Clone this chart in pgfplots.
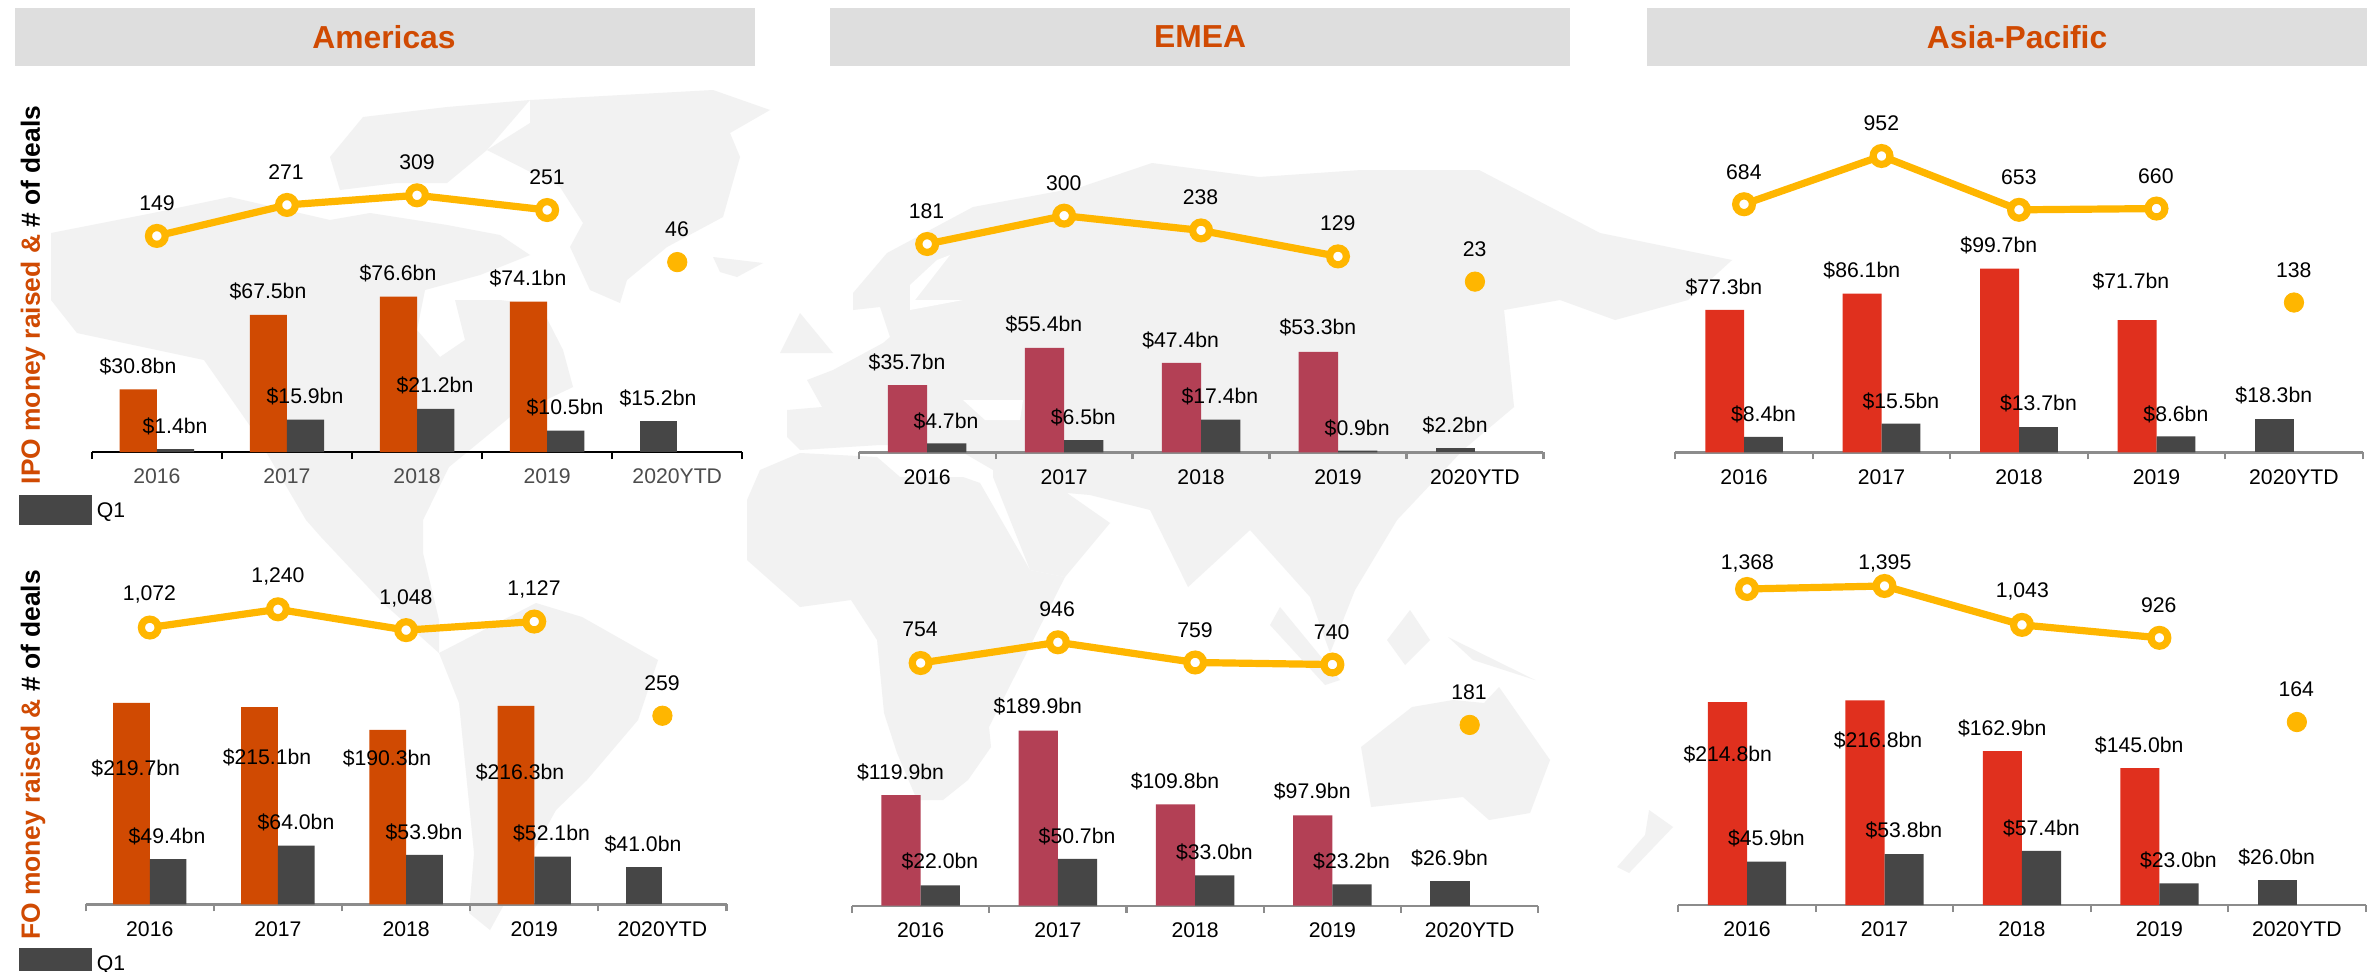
\documentclass[border=0pt]{standalone}
\usepackage{fontspec}
\setmainfont{Liberation Sans}
\usepackage{pgfplots}
\usepackage{pgfplotstable}
\pgfplotsset{compat=1.18}

\definecolor{pworange}{HTML}{D04A02}
\definecolor{pwrose}{HTML}{B34055}
\definecolor{pwred}{HTML}{E0301E}
\definecolor{pwdark}{HTML}{464646}
\definecolor{pwamber}{HTML}{FFB600}
\definecolor{axisgray}{HTML}{8C8C8C}
\definecolor{softtext}{HTML}{4D4D4D}
\definecolor{headgray}{HTML}{DEDEDE}
\definecolor{mapgray}{HTML}{F2F2F2}

% one unit = one pixel of the reference = 0.5pt
\pgfplotstableread{
x   raised q1   deals
0.5 30.8   1.4  149
1.5 67.5   15.9 271
2.5 76.6   21.2 309
3.5 74.1   10.5 251
}\amIPO
\pgfplotstableread{
x   raised q1   deals
0.5 219.7  49.4 1072
1.5 215.1  64.0 1240
2.5 190.3  53.9 1048
3.5 216.3  52.1 1127
}\amFO
\pgfplotstableread{
x   raised q1   deals
0.5 35.7   4.7  181
1.5 55.4   6.5  300
2.5 47.4   17.4 238
3.5 53.3   0.9  129
}\emIPO
\pgfplotstableread{
x   raised q1   deals
0.5 119.9  22.0 754
1.5 189.9  50.7 946
2.5 109.8  33.0 759
3.5 97.9   23.2 740
}\emFO
\pgfplotstableread{
x   raised q1   deals
0.5 77.3   8.4  684
1.5 86.1   15.5 952
2.5 99.7   13.7 653
3.5 71.7   8.6  660
}\apIPO
\pgfplotstableread{
x   raised q1   deals
0.5 214.8  45.9 1368
1.5 216.8  53.8 1395
2.5 162.9  57.4 1043
3.5 145.0  23.0 926
}\apFO

\pgfplotsset{
  pixelaxis/.style={
    at={(0pt,0pt)}, anchor=south west, scale only axis,
    width=1183.5pt, height=485.5pt,
    xmin=0, xmax=2367, ymin=0, ymax=971, y dir=reverse,
    hide axis, clip=false},
  % left, right, baseline in pixels, pixels per $bn
  barpanel/.style n args={4}{
    at={(\fpeval{#1*0.5}pt,\fpeval{(971-#3)*0.5}pt)}, anchor=south west,
    scale only axis, width=\fpeval{(#2-#1)*0.5}pt, height=175pt,
    xmin=0, xmax=5, ymin=0, ymax=\fpeval{350/#4},
    axis x line*=bottom, axis y line=none, clip=false,
    xtick={0,1,2,3,4,5}, x tick label as interval,
    xticklabels={2016,2017,2018,2019,2020YTD},
    xtick align=outside, major tick length=3.5pt,
    xticklabel style={font=\fontsize{10.6}{12}\selectfont, yshift=-1.5pt}},
  % left, right, baseline, pixels per deal, a value, pixel row of that value
  linepanel/.style n args={6}{
    at={(\fpeval{#1*0.5}pt,\fpeval{(971-#3)*0.5}pt)}, anchor=south west,
    scale only axis, width=\fpeval{(#2-#1)*0.5}pt, height=175pt,
    xmin=0, xmax=5,
    ymin=\fpeval{#5-(#3-#6)/#4}, ymax=\fpeval{#5-(#3-#6)/#4+350/#4},
    hide axis, clip=false},
  deals/.style={color=pwamber, line width=3.6pt, mark=*, mark size=4.2pt,
    mark options={line width=3.6pt, draw=pwamber, fill=white}},
  ytd/.style={only marks, mark=*, mark size=4.85pt, color=pwamber,
    mark options={draw=none, fill=pwamber}},
  blackaxis/.style={axis line style={black, line width=1pt},
    tick style={black, line width=1pt}, xticklabel style={text=softtext}},
  grayaxis/.style={axis line style={axisgray, line width=1.2pt},
    tick style={axisgray, line width=1.1pt}, xticklabel style={text=black}},
  % bar width in pixels
  raisedbar/.style 2 args={fill=#2, draw=none, ybar, bar width=\fpeval{#1*0.5}pt, bar shift=\fpeval{-#1*0.25}pt},
  qbar/.style={fill=pwdark, draw=none, ybar, bar width=\fpeval{#1*0.5}pt, bar shift=\fpeval{#1*0.25}pt},
  ytdbar/.style={fill=pwdark, draw=none, ybar, bar width=\fpeval{#1*0.5}pt, bar shift=\fpeval{-#1*0.25}pt},
  land/.style={fill=mapgray, draw=none},
  sea/.style={fill=white, draw=none},
}

\newcommand\lab[3]{\node[anchor=center, inner sep=0pt, font=\fontsize{10.6}{12}\selectfont, text=\labcol] at (axis cs:#1,#2) {#3};}
\newcommand\sidelabel[3]{\node[rotate=90, anchor=center, inner sep=0pt, font=\fontsize{13.2}{15}\selectfont\bfseries] at (axis cs:#1,#2)
  {\textcolor{pworange}{#3 money raised \&} \textcolor{black}{\# of deals}};}
\newcommand\head[4]{\fill[headgray] (axis cs:#1,8) rectangle (axis cs:#2,66);
  \node[font=\fontsize{15.9}{18}\selectfont\bfseries, text=pworange] at (axis cs:#3,37) {#4};}

\begin{document}
\begin{tikzpicture}
\path[use as bounding box, clip] (0,0) rectangle (1183.5pt,485.5pt);
\fill[white] (0,0) rectangle (1183.5pt,485.5pt);

% faint world map behind the panels
\begin{axis}[pixelaxis]
% North America, arctic islands, Greenland, Iceland
\addplot[land] coordinates {(51,233) (153,213) (230,197) (330,220) (370,213) (447,225) (500,235) (530,255) (480,275) (425,290) (417,330) (440,357) (465,340) (455,300) (500,300) (540,305) (563,350) (573,387) (510,417) (449,467) (423,520) (423,553) (439,620) (439,653) (383,603) (321,537) (306,520) (255,433) (204,360) (77,333) (51,300)};
\addplot[land] coordinates {(330,157) (363,117) (447,107) (530,100) (487,150) (447,183) (397,183) (340,190)};
\addplot[land] coordinates {(530,100) (713,90) (770,110) (730,133) (740,157) (723,217) (667,247) (627,280) (620,303) (590,290) (570,247) (583,223) (560,187) (487,150) (530,123)};
\addplot[land] coordinates {(713,257) (763,263) (737,277) (720,272)};
% South America
\addplot[land] coordinates {(439,653) (536,603) (582,617) (658,660) (638,720) (587,780) (556,810) (490,930) (469,913) (474,853) (459,703)};
% Eurasia, Britain
\addplot[land] coordinates {(887,253) (973,207) (1081,187) (1152,163) (1259,177) (1361,170) (1479,170) (1600,233) (1732,260) (1688,300) (1615,320) (1560,300) (1504,310) (1514,407) (1463,450) (1397,520) (1355,590) (1330,653) (1310,597) (1250,530) (1188,587) (1150,510) (1090,495) (1067,493) (1110,523) (1065,577) (1030,570) (993,477) (993,470) (950,445) (880,445) (800,450) (787,437) (787,410) (822,407) (807,380) (833,370) (883,343) (890,337) (880,307) (853,310) (853,293)};
\addplot[land] coordinates {(800,313) (833,353) (780,353)};
% Africa
\addplot[land] coordinates {(800,453) (877,457) (900,477) (963,477) (980,483) (1030,570) (1065,577) (989,727) (991,747) (968,780) (943,800) (917,800) (897,753) (884,713) (877,640) (851,600) (800,607) (747,560) (747,500) (760,470)};
% Australia, islands, New Zealand
\addplot[land] coordinates {(1361,747) (1412,707) (1453,700) (1484,703) (1499,687) (1550,760) (1530,813) (1489,820) (1463,797) (1371,807)};
\addplot[land] coordinates {(1448,637) (1535,680) (1473,660)};
\addplot[land] coordinates {(1387,640) (1410,610) (1430,640) (1405,665)};
\addplot[land] coordinates {(1280,607) (1340,680) (1325,685) (1270,625)};
\addplot[land] coordinates {(1649,810) (1673,827) (1629,873) (1617,867) (1645,835)};
% Black Sea, Baltic
\addplot[sea] coordinates {(963,400) (1023,400) (1020,420) (985,420)};
\addplot[sea] coordinates {(937,260) (950,255) (915,300) (963,300) (910,310) (910,285)};
\end{axis}

% headers, side titles, legends
\begin{axis}[pixelaxis]
\head{15}{755}{384}{Americas}
\head{830}{1570}{1200}{EMEA}
\head{1647}{2367}{2017}{Asia-Pacific}
\sidelabel{33}{295}{IPO}
\sidelabel{33}{755}{FO}
\fill[pwdark] (axis cs:19,495) rectangle (axis cs:92,525);
\fill[pwdark] (axis cs:19,948) rectangle (axis cs:92,971);
\node[font=\fontsize{10.6}{12}\selectfont] at (axis cs:111,512) {Q1};
\node[font=\fontsize{10.6}{12}\selectfont] at (axis cs:111,965) {Q1};
\end{axis}

% Americas IPO
\begin{axis}[barpanel={91.8}{742.3}{452}{2.03}, blackaxis]
\addplot[raisedbar={37.2}{pworange}] table[x=x, y=raised] {\amIPO};
\addplot[qbar=37.2] table[x=x, y=q1] {\amIPO};
\addplot[ytdbar=37.2] coordinates {(4.5,15.2)};
\end{axis}
\begin{axis}[linepanel={91.8}{742.3}{452}{0.254}{309}{195.3}]
\addplot[deals] table[x=x, y=deals] {\amIPO};
\addplot[ytd] coordinates {(4.5,46)};
\end{axis}

% Americas FO
\begin{axis}[barpanel={85.7}{726.5}{904.3}{0.917}, grayaxis]
\addplot[raisedbar={36.7}{pworange}] table[x=x, y=raised] {\amFO};
\addplot[qbar=36.7] table[x=x, y=q1] {\amFO};
\addplot[ytdbar=36.7] coordinates {(4.5,41.0)};
\end{axis}
\begin{axis}[linepanel={85.7}{726.5}{904.3}{0.1085}{1240}{609.3}]
\addplot[deals] table[x=x, y=deals] {\amFO};
\addplot[ytd] coordinates {(4.5,259)};
\end{axis}

% EMEA IPO
\begin{axis}[barpanel={858.7}{1543.4}{452.3}{1.885}, grayaxis]
\addplot[raisedbar={39.3}{pwrose}] table[x=x, y=raised] {\emIPO};
\addplot[qbar=39.3] table[x=x, y=q1] {\emIPO};
\addplot[ytdbar=39.3] coordinates {(4.5,2.2)};
\end{axis}
\begin{axis}[linepanel={858.7}{1543.4}{452.3}{0.238}{300}{215.7}]
\addplot[deals] table[x=x, y=deals] {\emIPO};
\addplot[ytd] coordinates {(4.5,23)};
\end{axis}

% EMEA FO
\begin{axis}[barpanel={852}{1538.3}{905.7}{0.922}, grayaxis]
\addplot[raisedbar={39.3}{pwrose}] table[x=x, y=raised] {\emFO};
\addplot[qbar=39.3] table[x=x, y=q1] {\emFO};
\addplot[ytdbar=39.3] coordinates {(4.5,26.9)};
\end{axis}
\begin{axis}[linepanel={852}{1538.3}{905.7}{0.108}{946}{642.3}]
\addplot[deals] table[x=x, y=deals] {\emFO};
\addplot[ytd] coordinates {(4.5,181)};
\end{axis}

% Asia-Pacific IPO
\begin{axis}[barpanel={1675.3}{2362.7}{452.3}{1.842}, grayaxis]
\addplot[raisedbar={38.8}{pwred}] table[x=x, y=raised] {\apIPO};
\addplot[qbar=38.8] table[x=x, y=q1] {\apIPO};
\addplot[ytdbar=38.8] coordinates {(4.5,18.3)};
\end{axis}
\begin{axis}[linepanel={1675.3}{2362.7}{452.3}{0.18}{952}{156}]
\addplot[deals] table[x=x, y=deals] {\apIPO};
\addplot[ytd] coordinates {(4.5,138)};
\end{axis}

% Asia-Pacific FO
\begin{axis}[barpanel={1678.3}{2365.6}{905}{0.944}, grayaxis]
\addplot[raisedbar={39.1}{pwred}] table[x=x, y=raised] {\apFO};
\addplot[qbar=39.1] table[x=x, y=q1] {\apFO};
\addplot[ytdbar=39.1] coordinates {(4.5,26.0)};
\end{axis}
\begin{axis}[linepanel={1678.3}{2365.6}{905}{0.1105}{1395}{586}]
\addplot[deals] table[x=x, y=deals] {\apFO};
\addplot[ytd] coordinates {(4.5,164)};
\end{axis}

% data labels, at the places the reference has them
\begin{axis}[pixelaxis]
\def\labcol{softtext}
\lab{157}{203}{149}\lab{286}{172}{271}\lab{417}{162}{309}\lab{547}{177}{251}\lab{677}{229}{46}
\lab{138}{366}{\$30.8bn}\lab{268}{291}{\$67.5bn}\lab{398}{273}{\$76.6bn}\lab{528}{278}{\$74.1bn}
\lab{175}{426}{\$1.4bn}\lab{305}{396}{\$15.9bn}\lab{435}{385}{\$21.2bn}\lab{565}{407}{\$10.5bn}\lab{658}{398}{\$15.2bn}
\def\labcol{black}
\lab{149.5}{594.7}{1,072}\lab{278}{576.7}{1,240}\lab{406}{598}{1,048}\lab{534}{589}{1,127}\lab{662}{683}{259}
\lab{135.7}{768.7}{\$219.7bn}\lab{267}{757.7}{\$215.1bn}\lab{387}{758.7}{\$190.3bn}\lab{520}{772.7}{\$216.3bn}
\lab{167}{836}{\$49.4bn}\lab{296}{822.7}{\$64.0bn}\lab{424}{832}{\$53.9bn}\lab{551.5}{833.3}{\$52.1bn}\lab{643}{844}{\$41.0bn}
\lab{926.5}{210.7}{181}\lab{1063.8}{182.7}{300}\lab{1200.5}{197.3}{238}\lab{1337.8}{222.7}{129}\lab{1474.5}{248.7}{23}
\lab{907}{362}{\$35.7bn}\lab{1043.9}{324}{\$55.4bn}\lab{1180.6}{340}{\$47.4bn}\lab{1317.9}{327.7}{\$53.3bn}
\lab{945.9}{421}{\$4.7bn}\lab{1083.2}{417}{\$6.5bn}\lab{1219.9}{396.7}{\$17.4bn}\lab{1357.1}{428.3}{\$0.9bn}\lab{1455.1}{425}{\$2.2bn}
\lab{919.9}{629.7}{754}\lab{1057.1}{608.7}{946}\lab{1194.9}{630}{759}\lab{1331.6}{631.7}{740}\lab{1468.9}{692}{181}
\lab{900.5}{772}{\$119.9bn}\lab{1037.8}{706.7}{\$189.9bn}\lab{1175}{781}{\$109.8bn}\lab{1312.2}{791.7}{\$97.9bn}
\lab{939.8}{861.7}{\$22.0bn}\lab{1077}{836}{\$50.7bn}\lab{1214.3}{852}{\$33.0bn}\lab{1351.5}{861}{\$23.2bn}\lab{1449.5}{858}{\$26.9bn}
\lab{1743.8}{172}{684}\lab{1881.3}{122.7}{952}\lab{2018.8}{176.7}{653}\lab{2155.8}{175.7}{660}\lab{2293.7}{269.7}{138}
\lab{1723.8}{287}{\$77.3bn}\lab{1861.7}{270}{\$86.1bn}\lab{1998.7}{245}{\$99.7bn}\lab{2130.8}{281}{\$71.7bn}
\lab{1763.4}{414}{\$8.4bn}\lab{1900.9}{401}{\$15.5bn}\lab{2038.4}{403.7}{\$13.7bn}\lab{2175.8}{414}{\$8.6bn}\lab{2273.7}{395.7}{\$18.3bn}
\lab{1747.3}{563}{1,368}\lab{1884.7}{563}{1,395}\lab{2022.2}{591.7}{1,043}\lab{2158.7}{604.7}{926}\lab{2296.2}{688.7}{164}
\lab{1727.7}{754}{\$214.8bn}\lab{1877.9}{740.7}{\$216.8bn}\lab{2002.2}{728}{\$162.9bn}\lab{2139.1}{745}{\$145.0bn}
\lab{1766.3}{838.7}{\$45.9bn}\lab{1903.8}{830.7}{\$53.8bn}\lab{2041.3}{828}{\$57.4bn}\lab{2178.3}{860}{\$23.0bn}\lab{2276.6}{857}{\$26.0bn}
\end{axis}
\end{tikzpicture}
\end{document}
